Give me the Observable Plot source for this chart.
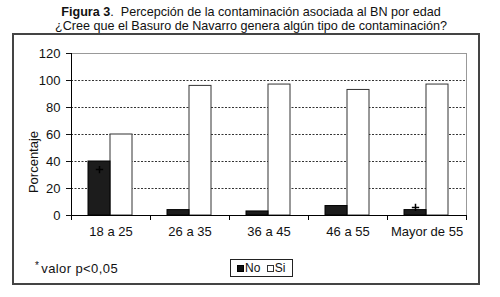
<!DOCTYPE html>
<html>
<head>
<meta charset="utf-8">
<script src="https://cdn.jsdelivr.net/npm/d3@7"></script>
<script src="https://cdn.jsdelivr.net/npm/@observablehq/plot@0.6"></script>
<style>
  html, body { margin: 0; padding: 0; background: #fff; }
  body { width: 500px; height: 297px; position: relative; overflow: hidden;
         font-family: "Liberation Sans", Arial, sans-serif; color: #111; }
  .tline { position: absolute; left: 0; width: 502px; text-align: center;
           font-size: 12.6px; line-height: 12.6px; white-space: nowrap; }
  #box { position: absolute; left: 12px; top: 33px; width: 464px; height: 248px;
         border: 2px solid #444; }
  #chart { position: absolute; left: 0; top: 33px; }
  #ylabel { position: absolute; left: 33px; top: 162px; transform: translate(-50%, -50%) rotate(-90deg);
            font-size: 13px; white-space: nowrap; }
  #note { position: absolute; left: 35px; top: 260px; font-size: 13px; letter-spacing: 0.4px; }
  #note sup { font-size: 10px; vertical-align: 4px; margin-right: 2px; }
  #legend { position: absolute; left: 230px; top: 259px; width: 61px; height: 16px;
            border: 1px solid #222; font-size: 12px; line-height: 16px; white-space: nowrap; }
  .sw { display: inline-block; width: 7px; height: 7px; margin: 0 1px 0 6px; vertical-align: 0px; box-sizing: border-box; }
</style>
</head>
<body>
<div class="tline" style="top:6px"><b>Figura 3</b>.&nbsp; Percepción de la contaminación asociada al BN por edad</div>
<div class="tline" style="top:19.5px">¿Cree que el Basuro de Navarro genera algún tipo de contaminación?</div>
<div id="box"></div>
<div id="chart"></div>
<div id="ylabel">Porcentaje</div>
<div id="note"><sup>*</sup>valor p&lt;0,05</div>
<div id="legend"><span class="sw" style="background:#111;border:1px solid #000"></span>No <span class="sw" style="background:#fff;border:1px solid #333;margin-left:3px"></span>Si</div>
<script>
const categories = ["18 a 25", "26 a 35", "36 a 45", "46 a 55", "Mayor de 55"];
const noValues = [40, 4, 3, 7, 4];
const siValues = [60, 96, 97, 93, 97];
const noMarkers = [34, null, null, null, 6];
const yTicks = [0, 20, 40, 60, 80, 100, 120];
const gridTicks = [20, 40, 60, 80, 100];

const data = categories.map((c, i) => ({cat: c, no: noValues[i], si: siValues[i], mk: noMarkers[i]}));

const W = 480, H = 220, ML = 71, MR = 14;
const half = (W - ML - MR) / categories.length / 2;

const chart = Plot.plot({
  width: W,
  height: H,
  marginLeft: ML,
  marginRight: MR,
  marginTop: 20,
  marginBottom: 38,
  style: {fontFamily: "'Liberation Sans', Arial, sans-serif", fontSize: "13px", color: "#111", background: "transparent", overflow: "visible"},
  x: {domain: categories, padding: 0, tickSize: 0, tickPadding: 11, label: null},
  y: {domain: [0, 120], ticks: yTicks, tickSize: 5, tickPadding: 6, label: null},
  marks: [
    Plot.frame({stroke: "#999"}),
    Plot.ruleY(gridTicks, {stroke: "#333", strokeDasharray: "2,1.5"}),
    Plot.barY(data, {x: "cat", y: "si", fill: "#fff", stroke: "#333", insetLeft: 39, insetRight: 18}),
    Plot.barY(data, {x: "cat", y: "no", fill: "#1c1c1c", stroke: "#000", insetLeft: 17, insetRight: 40}),
    Plot.dot(data.filter(d => d.mk != null), {x: "cat", y: "mk", symbol: "plus", r: 2.5, stroke: "#000", strokeWidth: 1.5, dx: 17 + 11 - half}),
    Plot.ruleY([0], {stroke: "#000"}),
    Plot.ruleX([categories[0]], {y1: 0, y2: 120, dx: -half, stroke: "#000"}),
    Plot.ruleX(categories, {y1: 0, y2: 0, dx: -half, insetBottom: -5, stroke: "#000"}),
    Plot.ruleX([categories[categories.length - 1]], {y1: 0, y2: 0, dx: half, insetBottom: -5, stroke: "#000"})
  ]
});
document.getElementById("chart").appendChild(chart);
</script>
</body>
</html>
